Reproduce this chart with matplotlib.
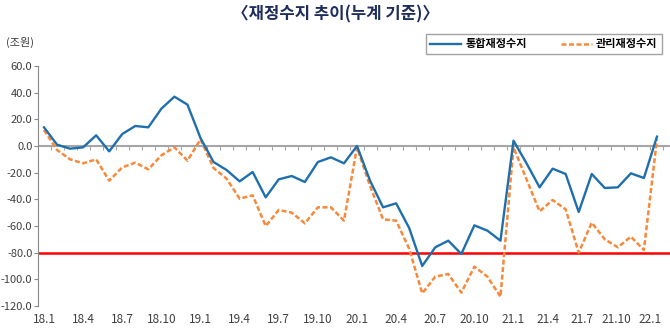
import numpy as np
import matplotlib
matplotlib.use('Agg')
import matplotlib.pyplot as plt
from matplotlib.ticker import NullFormatter

plt.rcParams['font.family'] = ['Liberation Sans Narrow', 'Noto Sans CJK KR', 'DejaVu Sans']
plt.rcParams['axes.unicode_minus'] = False

# monthly cumulative balance (trillion won), 18.1 ~ 21.11, then 22.1
tong = [14, 1, -2, -1, 8, -4, 9, 15, 14, 28, 37, 31,
        6, -12, -18, -26.5, -19.5, -38.5, -25, -22.5, -27, -12, -8.5, -13,
        0, -26, -46, -43, -61.5, -90, -76, -71, -81, -59.5, -63.5, -71,
        4, -13, -31, -17, -21, -49.5, -21, -31.5, -31, -20.5, -24, 7]
gwanri = [12, -3, -10, -13, -10, -26, -16, -12.5, -17.5, -7, -1, -11,
          5, -16.5, -24.5, -39.5, -37, -60, -48, -50, -58, -46, -46, -56,
          -1, -30, -55, -56, -77, -110.5, -98, -96, -110, -90.5, -98, -113,
          -1, -25, -49, -40.5, -47.5, -80, -57.5, -70, -76, -68, -78, 5]
tick_labels = ['18.1', '18.4', '18.7', '18.10', '19.1', '19.4', '19.7', '19.10',
               '20.1', '20.4', '20.7', '20.10', '21.1', '21.4', '21.7', '21.10', '22.1']

x = np.arange(len(tong))
blue = '#1f6fad'
orange = '#f7893b'
grey_txt = '#404040'

fig = plt.figure(figsize=(6.7, 3.33), dpi=100)
ax = fig.add_axes([38 / 670, 1 - 306 / 333, 632 / 670, 240 / 333])

ax.axhline(0, color='#a6a6a6', lw=1.5, zorder=1)
ax.axhline(-80, color='#ff0000', lw=1.8, zorder=2)
l1, = ax.plot(x, tong, color=blue, lw=1.7, label='통합재정수지', zorder=4)
l2, = ax.plot(x, gwanri, color=orange, lw=1.8, ls=(0, (2, 1)), label='관리재정수지', zorder=3)

ax.set_xlim(-0.46, 48.0)
ax.set_ylim(-120, 60)
ax.set_yticks(np.arange(-120, 61, 20))
ax.set_yticklabels([f'{v:.1f}' for v in np.arange(-120, 61, 20)])

tick_pos = list(range(0, 37, 3)) + list(np.linspace(36, 46.5, 5)[1:])
ax.set_xticks(tick_pos)
ax.set_xticklabels(tick_labels)
ax.tick_params(axis='x', length=0, pad=5, labelsize=8.5, colors=grey_txt)
ax.tick_params(axis='y', length=3, width=0.8, color='#888888', labelsize=8,
               colors=grey_txt, pad=1)

for s in ['top', 'right', 'bottom']:
    ax.spines[s].set_visible(False)
ax.spines['left'].set_color('#888888')
ax.spines['left'].set_linewidth(0.8)

# small category marks on the zero line
sec = ax.secondary_xaxis(2 / 3)
sec.set_xticks(np.arange(0.5, 48, 1))
sec.xaxis.set_major_formatter(NullFormatter())
sec.xaxis.set_ticks_position('bottom')
sec.tick_params(length=3, width=0.8, color='#a6a6a6')
for s in sec.spines.values():
    s.set_visible(False)

fig.text(0.5, 1 - 14 / 333, '〈재정수지 추이(누계 기준)〉', ha='center', va='center',
         fontsize=12, fontweight='bold', color='#1f2d5c', family='Noto Sans CJK KR')
fig.text(6 / 670, 1 - 42 / 333, '(조원)', ha='left', va='center', fontsize=8,
         color=grey_txt, family='Noto Sans CJK KR')

leg = fig.legend(handles=[l1, l2], loc='center', ncol=2,
                 bbox_to_anchor=(544 / 670, 1 - 44 / 333), frameon=True, fancybox=False,
                 edgecolor='#8c8c8c', handlelength=2.8, handletextpad=0.4,
                 columnspacing=3.0, borderpad=0.35,
                 prop={'family': 'Noto Sans CJK KR', 'size': 8, 'weight': 'bold'})
leg.get_frame().set_linewidth(1.0)

fig.savefig('out.png', dpi=100)
